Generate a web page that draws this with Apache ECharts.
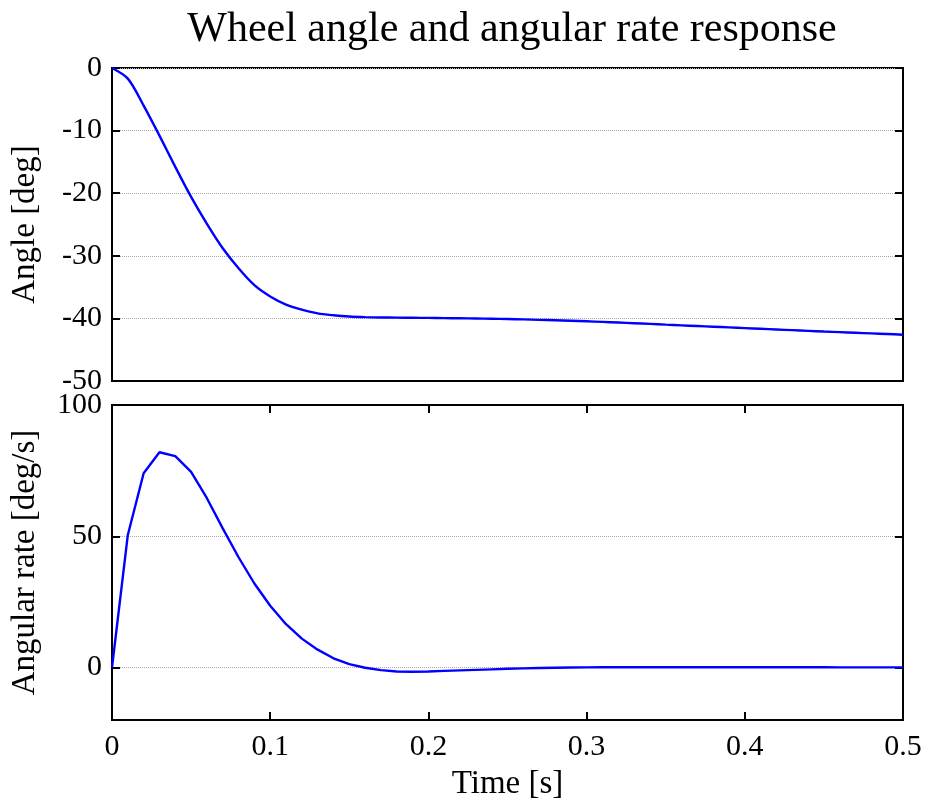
<!DOCTYPE html>
<html>
<head>
<meta charset="utf-8">
<script src="https://cdn.jsdelivr.net/npm/echarts@6/dist/echarts.min.js"></script>
<style>html,body{margin:0;padding:0;background:#fff;}#c{width:929px;height:808px;}</style>
</head>
<body>
<div id="c"></div>
<script>
const titleText = 'Wheel angle and angular rate response';
const time = [0,0.01,0.02,0.03,0.04,0.05,0.06,0.07,0.08,0.09,0.10,0.11,0.12,0.13,0.14,0.15,0.16,0.17,0.18,0.19,0.20,0.21,0.22,0.23,0.24,0.25,0.26,0.27,0.28,0.29,0.30,0.31,0.32,0.33,0.34,0.35,0.36,0.37,0.38,0.39,0.40,0.41,0.42,0.43,0.44,0.45,0.46,0.47,0.48,0.49,0.50];
const angle = [0,-1.7,-6.0,-10.8,-15.8,-20.6,-24.9,-28.8,-32.0,-34.7,-36.5,-37.8,-38.6,-39.2,-39.5,-39.7,-39.8,-39.85,-39.88,-39.9,-39.92,-39.95,-39.98,-40.02,-40.06,-40.1,-40.16,-40.23,-40.3,-40.38,-40.46,-40.56,-40.66,-40.77,-40.88,-41.0,-41.11,-41.22,-41.33,-41.44,-41.55,-41.66,-41.77,-41.88,-41.99,-42.1,-42.2,-42.3,-42.4,-42.5,-42.6];
const rate = [0,50.5,74,82,80.5,74.5,64.5,53,42,32,23.5,16.5,11,6.8,3.5,1.3,-0.1,-1.0,-1.5,-1.6,-1.5,-1.3,-1.1,-0.9,-0.7,-0.5,-0.35,-0.2,-0.1,0,0.05,0.08,0.1,0.1,0.1,0.1,0.1,0.1,0.1,0.1,0.1,0.1,0.1,0.08,0.08,0.07,0.06,0.05,0.05,0.05,0.05];
const xTicks = [0,0.1,0.2,0.3,0.4,0.5];
const angleTicks = [-50,-40,-30,-20,-10,0];
const rateTicks = [0,50,100];

const FONT = '"Liberation Serif", "DejaVu Serif", serif';
const lbl = {fontFamily: FONT, fontSize: 30, color: '#000'};
const axLine = {show: true, onZero: false, lineStyle: {color: '#000', width: 2}};
const tick = {show: true, inside: true, length: 8, lineStyle: {color: '#000', width: 2}};
const split = {show: true, lineStyle: {color: '#aaaaaa', width: 1, type: [1, 1]}};

const chart = echarts.init(document.getElementById('c'), null, {renderer: 'canvas'});
chart.setOption({
  backgroundColor: '#fff',
  animation: false,
  title: {
    text: titleText, left: 507, top: 4, textAlign: 'center',
    textStyle: {fontFamily: FONT, fontSize: 42, fontWeight: 'normal', color: '#000'}
  },
  grid: [
    {left: 112, right: 26, top: 68, height: 313, show: true, borderColor: '#000', borderWidth: 2, backgroundColor: '#fff'},
    {left: 112, right: 26, top: 405, height: 315, show: true, borderColor: '#000', borderWidth: 2, backgroundColor: '#fff'}
  ],
  xAxis: [
    {type: 'value', gridIndex: 0, min: 0, max: 0.5, interval: 0.1, axisLine: axLine, axisTick: {show: false}, axisLabel: {show: false}, splitLine: {show: false}},
    {type: 'value', gridIndex: 1, min: 0, max: 0.5, interval: 0.1, axisLine: axLine, axisTick: tick, splitLine: {show: false},
      axisLabel: Object.assign({margin: 12, customValues: xTicks, formatter: v => String(+v.toFixed(1))}, lbl),
      name: 'Time [s]', nameLocation: 'middle', nameGap: 48, nameTextStyle: {fontFamily: FONT, fontSize: 33, color: '#000'}},
    {type: 'value', gridIndex: 1, position: 'top', min: 0, max: 0.5, interval: 0.1, axisLine: axLine, axisTick: tick, axisLabel: {show: false}, splitLine: {show: false}}
  ],
  yAxis: [
    {type: 'value', gridIndex: 0, min: -50, max: 0, interval: 10, axisLine: axLine, axisTick: tick, splitLine: split,
      axisLabel: Object.assign({margin: 10, customValues: angleTicks}, lbl),
      name: 'Angle [deg]', nameLocation: 'middle', nameGap: 70, nameTextStyle: {fontFamily: FONT, fontSize: 33, color: '#000'}},
    {type: 'value', gridIndex: 0, position: 'right', min: -50, max: 0, interval: 10, axisLine: axLine, axisTick: tick, axisLabel: {show: false}, splitLine: {show: false}},
    {type: 'value', gridIndex: 1, min: -20, max: 100, interval: 10, axisLine: axLine,
      axisTick: Object.assign({customValues: rateTicks}, tick), splitLine: split,
      axisLabel: Object.assign({margin: 10, customValues: rateTicks}, lbl),
      name: 'Angular rate [deg/s]', nameLocation: 'middle', nameGap: 70, nameTextStyle: {fontFamily: FONT, fontSize: 33, color: '#000'}},
    {type: 'value', gridIndex: 1, position: 'right', min: -20, max: 100, interval: 10, axisLine: axLine,
      axisTick: Object.assign({customValues: rateTicks}, tick), axisLabel: {show: false}, splitLine: {show: false}}
  ],
  series: [
    {type: 'line', xAxisIndex: 0, yAxisIndex: 0, data: time.map((t, i) => [t, angle[i]]), showSymbol: false, smooth: 0.3,
      lineStyle: {color: '#0000ff', width: 2.4}, z: 5},
    {type: 'line', xAxisIndex: 1, yAxisIndex: 2, data: time.map((t, i) => [t, rate[i]]), showSymbol: false, smooth: false,
      lineStyle: {color: '#0000ff', width: 2.4}, z: 5}
  ]
});
</script>
</body>
</html>
